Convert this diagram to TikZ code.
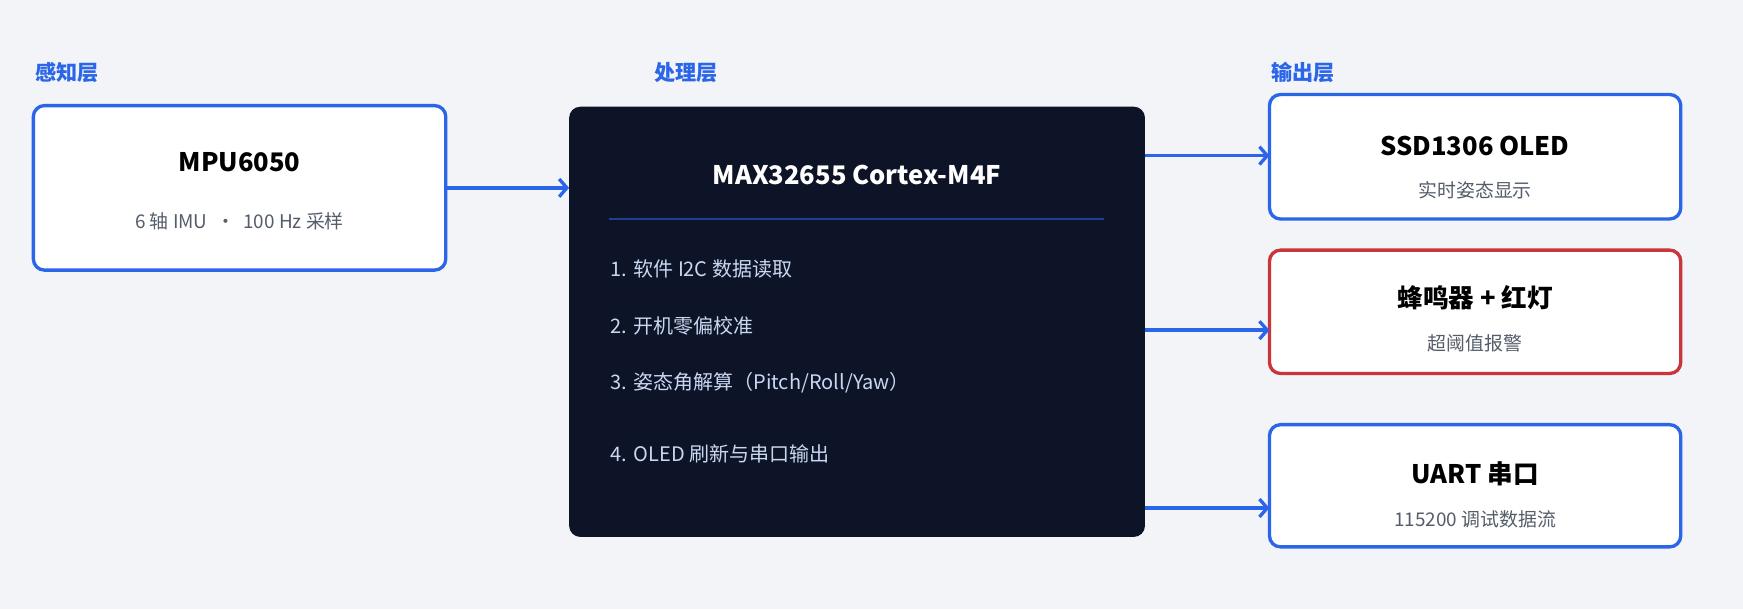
\documentclass[tikz,border=0pt]{standalone}
\usepackage{fontspec}
\setmainfont{Noto Sans CJK SC}
\usetikzlibrary{arrows.meta}
\definecolor{bg}{HTML}{F2F4F8}
\definecolor{blu}{HTML}{2B66E8}
\definecolor{rd}{HTML}{C8353A}
\definecolor{dk}{HTML}{0E1427}
\definecolor{gr}{HTML}{555D6A}
\definecolor{lt}{HTML}{C9D7F2}
\definecolor{ln}{HTML}{1F3F8F}
\begin{document}
\begin{tikzpicture}[x=1pt,y=-1pt,
  box/.style={draw=blu,line width=3pt,fill=white,rounded corners=10pt},
  lay/.style={anchor=west,text=blu,font=\fontsize{19}{22}\selectfont\bfseries},
  ttl/.style={font=\fontsize{23}{26}\selectfont\bfseries,text=black},
  sub/.style={font=\fontsize{17}{20}\selectfont,text=gr},
  itm/.style={anchor=west,font=\fontsize{18}{22}\selectfont,text=lt},
  arr/.style={draw=blu,line width=3pt,-{Straight Barb[length=7pt,width=16pt,line width=3pt]}}]
\useasboundingbox[fill=bg] (0,0) rectangle (1568,548);
\node[lay] (l1) at (28,65) {感知层};
\node[lay] (l2) at (585,65) {处理层};
\node[lay] (l3) at (1140,65) {输出层};
\draw[box] (30,95) rectangle (401,243);
\coordinate (mpuR) at (401,169);
\node[ttl] (t1) at (215.5,146) {MPU6050};
\node[sub] (s1) at (215.5,199) {6 轴 IMU \ · \ 100 Hz 采样};
\fill[dk,rounded corners=10pt] (512,96) rectangle (1030,483);
\coordinate (pL) at (512,169);
\coordinate (pR1) at (1030,140);
\coordinate (pR2) at (1030,297);
\coordinate (pR3) at (1030,457);
\node[ttl,text=white] (t2) at (771,157) {MAX32655 Cortex-M4F};
\draw[ln,line width=1.2pt] (548,197) -- (993,197);
\node[itm] (i1) at (546,242) {1. 软件 I2C 数据读取};
\node[itm] (i2) at (546,293) {2. 开机零偏校准};
\node[itm] (i3) at (546,344) {3. 姿态角解算（Pitch/Roll/Yaw）};
\node[itm] (i4) at (546,408) {4. OLED 刷新与串口输出};
\draw[box] (1142,85) rectangle (1512,197);
\draw[box,draw=rd] (1142,225) rectangle (1512,336);
\draw[box] (1142,382) rectangle (1512,492);
\coordinate (o1) at (1142,140);
\coordinate (o2) at (1142,297);
\coordinate (o3) at (1142,457);
\node[ttl] (t3) at (1327,131) {SSD1306 OLED};
\node[sub] (s3) at (1327,171) {实时姿态显示};
\node[ttl] (t4) at (1327,268) {蜂鸣器 + 红灯};
\node[sub] (s4) at (1327,309) {超阈值报警};
\node[ttl] (t5) at (1327,426) {UART 串口};
\node[sub] (s5) at (1327,467) {115200 调试数据流};
\draw[arr] (mpuR) -- (pL);
\draw[arr] (pR1) -- (o1);
\draw[arr] (pR2) -- (o2);
\draw[arr] (pR3) -- (o3);
\end{tikzpicture}
\end{document}
